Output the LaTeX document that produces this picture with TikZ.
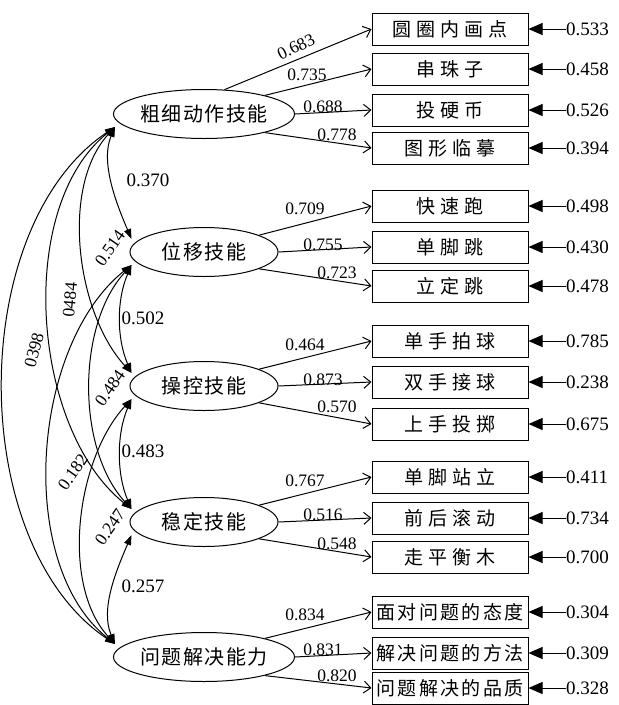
\documentclass[tikz,border=0pt]{standalone}
\usepackage{fontspec}
\setmainfont{Liberation Serif}
\newfontfamily\cjkell[LetterSpace=8]{Noto Sans CJK SC}
\newfontfamily\cjkbox[LetterSpace=27]{Noto Sans CJK SC}
\newfontfamily\cjkboxw[LetterSpace=12]{Noto Sans CJK SC}
\usetikzlibrary{arrows.meta,shapes.geometric,calc}
\begin{document}
\begin{tikzpicture}[x=1pt,y=-1pt,line width=1pt,
  ell/.style={draw,ellipse,minimum width=148pt,minimum height=49pt,inner sep=0pt,
    font=\cjkell\fontsize{20}{20}\selectfont},
  obs/.style={draw,rectangle,minimum width=156pt,minimum height=32pt,inner sep=0pt,
    font=\cjkbox\fontsize{19}{19}\selectfont},
  obsw/.style={obs,font=\cjkboxw\fontsize{19}{19}\selectfont},
  lbl/.style={font=\fontsize{17.5}{17.5}\selectfont,inner sep=0pt},
  cov/.style={font=\fontsize{19}{19}\selectfont,inner sep=0pt},
  err/.style={font=\fontsize{19}{19}\selectfont,inner sep=0pt,anchor=west},
  load/.style={-{Straight Barb[length=7pt,width=12pt]}},
  errarr/.style={-{Triangle[length=14pt,width=12pt]}},
  covarr/.style={{Triangle[length=10pt,width=7pt]}-{Triangle[length=10pt,width=7pt]}}
]
\useasboundingbox (0,0) rectangle (619,705);

% latent factors
\node[ell] (e1) at (204,114) {粗细动作技能};
\node[ell] (e2) at (204,252) {位移技能};
\node[ell] (e3) at (204,386) {操控技能};
\node[ell] (e4) at (204,522) {稳定技能};
\node[ell] (e5) at (204,657) {问题解决能力};

% observed boxes
\node[obs] (b1) at (450,29) {圆圈内画点};
\node[obs] (b2) at (450,69) {串珠子};
\node[obs] (b3) at (450,110) {投硬币};
\node[obs] (b4) at (450,148) {图形临摹};
\node[obs] (b5) at (450,206) {快速跑};
\node[obs] (b6) at (450,247) {单脚跳};
\node[obs] (b7) at (450,286) {立定跳};
\node[obs] (b8) at (450,341) {单手拍球};
\node[obs] (b9) at (450,382) {双手接球};
\node[obs] (b10) at (450,424) {上手投掷};
\node[obs] (b11) at (450,477) {单脚站立};
\node[obs] (b12) at (450,518) {前后滚动};
\node[obs] (b13) at (450,557) {走平衡木};
\node[obsw] (b14) at (450,612) {面对问题的态度};
\node[obsw] (b15) at (450,653) {解决问题的方法};
\node[obsw] (b16) at (450,688) {问题解决的品质};

% error terms
\foreach \i/\v in {1/0.533,2/0.458,3/0.526,4/0.394,5/0.498,6/0.430,7/0.478,8/0.785,
  9/0.238,10/0.675,11/0.411,12/0.734,13/0.700,14/0.304,15/0.309,16/0.328}{
  \node[err] (r\i) at ([xshift=37pt]b\i.east) {\v};
  \draw[errarr] (r\i) -- (b\i.east);
}

% loadings
\draw[load] (e1.50) -- (b1.west);
\draw[load] (e1.17) -- (b2.west);
\draw[load] (e1.east) -- (b3.west);
\draw[load] (e1.-17) -- (b4.west);
\draw[load] (e2.17) -- (b5.west);
\draw[load] (e2.east) -- (b6.west);
\draw[load] (e2.-17) -- (b7.west);
\draw[load] (e3.17) -- (b8.west);
\draw[load] (e3.east) -- (b9.west);
\draw[load] (e3.-17) -- (b10.west);
\draw[load] (e4.17) -- (b11.west);
\draw[load] (e4.east) -- (b12.west);
\draw[load] (e4.-17) -- (b13.west);
\draw[load] (e5.17) -- (b14.west);
\draw[load] (e5.east) -- (b15.west);
\draw[load] (e5.-17) -- (b16.west);

\node[lbl,rotate=26] (l1) at (296,47) {0.683};
\node[lbl] (l2) at (307,75) {0.735};
\node[lbl] (l3) at (323,107) {0.688};
\node[lbl] (l4) at (337,135) {0.778};
\node[lbl] (l5) at (305,209) {0.709};
\node[lbl] (l6) at (323,245) {0.755};
\node[lbl] (l7) at (337,273) {0.723};
\node[lbl] (l8) at (305,345) {0.464};
\node[lbl] (l9) at (323,380) {0.873};
\node[lbl] (l10) at (337,407) {0.570};
\node[lbl] (l11) at (305,481) {0.767};
\node[lbl] (l12) at (323,515) {0.516};
\node[lbl] (l13) at (337,544) {0.548};
\node[lbl] (l14) at (305,615) {0.834};
\node[lbl] (l15) at (323,650) {0.831};
\node[lbl] (l16) at (337,676) {0.820};

% covariance end points
\foreach \i in {1,...,5}{
  \coordinate (u\i) at ([shift={(2,-13)}]e\i.west);
  \coordinate (d\i) at ([shift={(2,13)}]e\i.west);
}
% adjacent
\draw[covarr] (d1) .. controls +(-15,35) and +(-15,-35) .. (u2);
\draw[covarr] (d2) .. controls +(-15,35) and +(-15,-35) .. (u3);
\draw[covarr] (d3) .. controls +(-15,35) and +(-15,-35) .. (u4);
\draw[covarr] (d4) .. controls +(-15,35) and +(-15,-35) .. (u5);
% skip one
\draw[covarr] (d1) .. controls +(-55,60) and +(-55,-60) .. (u3);
\draw[covarr] (d2) .. controls +(-55,60) and +(-55,-60) .. (u4);
\draw[covarr] (d3) .. controls +(-55,60) and +(-55,-60) .. (u5);
% skip two
\draw[covarr] (d1) .. controls +(-100,80) and +(-100,-80) .. (u4);
\draw[covarr] (d2) .. controls +(-100,80) and +(-100,-80) .. (u5);
% skip three
\draw[covarr] (d1) .. controls +(-149,100) and +(-149,-100) .. (u5);

\node[cov] (c12) at (148,180) {0.370};
\node[cov] (c23) at (143,318) {0.502};
\node[cov] (c34) at (143,451) {0.483};
\node[cov] (c45) at (143,586) {0.257};
\node[lbl,rotate=55] (c13) at (110,248) {0.514};
\node[lbl,rotate=55] (c24) at (110,388) {0.484};
\node[lbl,rotate=55] (c35) at (110,527) {0.247};
\node[lbl,rotate=55] (c25) at (73,472) {0.182};
\node[lbl,rotate=85] (c14) at (70,300) {0484};
\node[lbl,rotate=75] (c15) at (34,350) {0398};
\end{tikzpicture}
\end{document}
